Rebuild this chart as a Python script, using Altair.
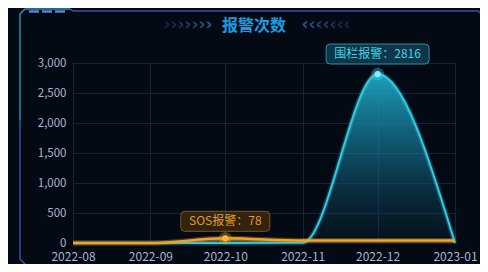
import altair as alt
import pandas as pd

# ---------------- data ----------------
months = ["2022-08-01", "2022-09-01", "2022-10-01", "2022-11-01", "2022-12-01", "2023-01-01"]
fence_alarm = [0, 0, 0, 5, 2816, 0]
sos_alarm = [0, 0, 78, 40, 40, 40]
y_ticks = [0, 500, 1000, 1500, 2000, 2500, 3000]
title_text = "报警次数"
fence_name = "围栏报警"
sos_name = "SOS报警"

df = pd.DataFrame({"month": months, "fence": fence_alarm, "sos": sos_alarm})

fi = fence_alarm.index(max(fence_alarm))
si = sos_alarm.index(max(sos_alarm))
fence_mark = pd.DataFrame({"month": [months[fi]], "v": [fence_alarm[fi]],
                           "label": [f"{fence_name}：{fence_alarm[fi]}"]})
sos_mark = pd.DataFrame({"month": [months[si]], "v": [sos_alarm[si]],
                         "label": [f"{sos_name}：{sos_alarm[si]}"]})

# ---------------- layout ----------------
MARGIN = 8           # page margin
W, H = 382, 180      # plot area
L, T = 73, 63        # plot origin in page pixels
FONT = "Noto Sans CJK SC"
BG = "#040a14"

xs = alt.Scale(type="utc", nice=False)
ys = alt.Scale(domain=[0, 3000], nice=False)

x_axis = alt.Axis(format="%Y-%m", tickCount={"interval": "month", "step": 1},
                  labelColor="#a9b6d0", labelFontSize=12, labelFont=FONT,
                  labelPadding=8, domain=False, ticks=False,
                  grid=True, gridColor="#13243b", labelFlush=False, labelOverlap=False)
y_axis = alt.Axis(values=y_ticks, format=",.0f", labelColor="#a9b6d0", labelFontSize=11.5,
                  labelFont=FONT, labelPadding=7, domain=False, ticks=False,
                  grid=True, gridColor="#13243b", labelOverlap=False)


def X():
    return alt.X("month:T", scale=xs, axis=x_axis, title=None)


def Y(field):
    return alt.Y(field, type="quantitative", scale=ys, axis=y_axis, title=None)


base = alt.Chart(df)

fence_grad = alt.Gradient(
    gradient="linear", x1=0, x2=0, y1=0, y2=1,
    stops=[alt.GradientStop(color="rgba(32,175,205,0.9)", offset=0),
           alt.GradientStop(color="rgba(20,115,145,0.6)", offset=0.5),
           alt.GradientStop(color="rgba(10,40,60,0.25)", offset=1)])
sos_grad = alt.Gradient(
    gradient="linear", x1=0, x2=0, y1=0, y2=1,
    stops=[alt.GradientStop(color="rgba(240,160,40,0.5)", offset=0),
           alt.GradientStop(color="rgba(240,160,40,0.1)", offset=1)])

fence_area = base.mark_area(interpolate="monotone", fill=fence_grad).encode(x=X(), y=Y("fence"))
fence_glow = base.mark_line(interpolate="monotone", color="#2fd0e8", strokeWidth=5, opacity=0.25).encode(
    x=X(), y=Y("fence"))
fence_line = base.mark_line(interpolate="monotone", color="#35c8de", strokeWidth=2).encode(
    x=X(), y=Y("fence"))

sos_area = base.mark_area(interpolate="monotone", fill=sos_grad).encode(x=X(), y=Y("sos"))
sos_glow = base.mark_line(interpolate="monotone", color="#f0a020", strokeWidth=5, opacity=0.3).encode(
    x=X(), y=Y("sos"))
sos_line = base.mark_line(interpolate="monotone", color="#f0a428", strokeWidth=2.5).encode(
    x=X(), y=Y("sos"))


def box_path(a):
    r = 0.4
    return (f"M {-a + r} -1 H {a - r} Q {a} -1 {a} {-1 + r} V {1 - r} Q {a} 1 {a - r} 1 "
            f"H {-a + r} Q {-a} 1 {-a} {1 - r} V {-1 + r} Q {-a} -1 {-a + r} -1 Z")


def marker(data, color, glow, box_fill, box_stroke, text_color, half_w, off):
    c = alt.Chart(data)
    g = c.mark_circle(size=160, color=glow, opacity=0.35).encode(x=X(), y=Y("v"))
    p = c.mark_circle(size=40, color=color, opacity=1).encode(x=X(), y=Y("v"))
    b = c.mark_point(shape=box_path(half_w), size=400, filled=True, fill=box_fill,
                     stroke=box_stroke, strokeWidth=1, opacity=1, yOffset=off).encode(x=X(), y=Y("v"))
    t = c.mark_text(font=FONT, fontSize=12, color=text_color, yOffset=off,
                    baseline="middle", align="center").encode(text="label:N", x=X(), y=Y("v"))
    return [g, p, b, t]


fence_marks = marker(fence_mark, "#7ff0ff", "#3fd8f0", "rgba(18,70,90,0.75)", "#2a8ea8",
                     "#40d2e6", 5.15, -20)
sos_marks = marker(sos_mark, "#ffb640", "#f0a020", "rgba(70,45,12,0.7)", "#7a5622",
                   "#e39a2e", 4.45, -17)

# ---------------- decorations (frame, title) ----------------
one = alt.Data(values=[{"a": 1}])


def seg(x1, y1, x2, y2, color, w=1.5):
    return alt.Chart(one).mark_rule(color=color, strokeWidth=w).encode(
        x=alt.value(x1 - L), x2=alt.value(x2 - L), y=alt.value(y1 - T), y2=alt.value(y2 - T))


deco = [
    seg(20, 14, 20, 120, "#2a8eb0"),
    seg(20, 120, 20, 259, "#34559f"),
    seg(20, 259, 33, 272, "#34559f"),
    seg(20, 14, 25, 9, "#2a9ab5"),
    seg(25, 9, 70, 9, "#2a8fb0"),
    seg(70, 9, 73, 11, "#3c5fa8"),
    seg(73, 11, 478, 11, "#454c9c"),
    seg(478, 11, 490, 22, "#454c9c"),
    seg(29, 11.5, 39, 11.5, "#6878dc", 2.5),
    seg(42, 11.5, 52, 11.5, "#6878dc", 2.5),
    seg(55, 11.5, 65, 11.5, "#6878dc", 2.5),
]

title = alt.Chart(one).mark_text(font=FONT, fontSize=16, fontWeight="bold", color="#1d9de0",
                                 align="center", baseline="middle").encode(
    x=alt.value(254 - L), y=alt.value(26 - T), text=alt.value(title_text))

chev = []
left_cols = ["#16263f", "#1a2d4a", "#1e3456", "#223b62", "#27436e", "#2c4c7c", "#31558a"]
for i, col in enumerate(left_cols):
    chev.append(alt.Chart(one).mark_text(font="DejaVu Sans", fontSize=17, fontWeight="bold",
                                         color=col, align="center", baseline="middle").encode(
        x=alt.value(167 + i * 7 - L), y=alt.value(25 - T), text=alt.value("›")))
    chev.append(alt.Chart(one).mark_text(font="DejaVu Sans", fontSize=17, fontWeight="bold",
                                         color=col, align="center", baseline="middle").encode(
        x=alt.value(347 - i * 7 - L), y=alt.value(25 - T), text=alt.value("‹")))

PL, PT = L - MARGIN, T - MARGIN
chart = alt.layer(
    fence_area, sos_area, fence_glow, fence_line, sos_glow, sos_line,
    *fence_marks, *sos_marks, *deco, title, *chev
).properties(
    width=W, height=H,
    autosize=alt.AutoSizeParams(type="none"),
    padding={"left": PL, "top": PT, "right": 488 - 2 * MARGIN - PL - W,
             "bottom": 272 - 2 * MARGIN - PT - H},
    background=BG,
).configure_view(stroke="#24507c", strokeWidth=1)

chart.save("out.html", embed_options={"renderer": "svg", "actions": False})
